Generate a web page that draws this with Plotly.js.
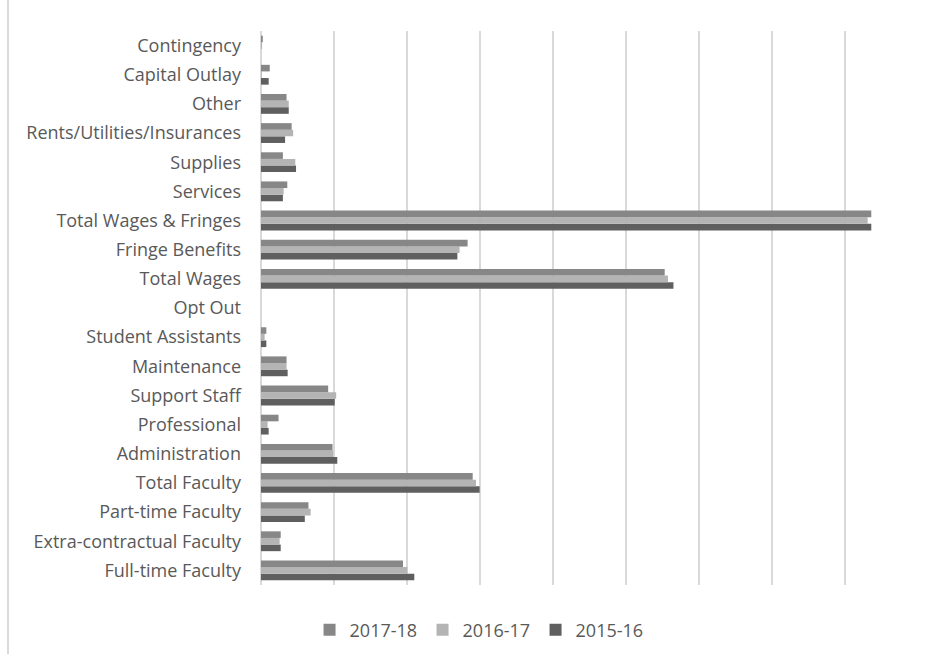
<!DOCTYPE html>
<html>
<head>
<meta charset="utf-8">
<script src="https://cdn.plot.ly/plotly-3.0.1.min.js"></script>
<style>
  html, body { margin: 0; padding: 0; background: #fff; }
  #chart { width: 932px; height: 655px; }
  #frame { position: absolute; left: 7px; top: 0; width: 2px; height: 654px; background: #d9d9d9; }
</style>
</head>
<body>
<div id="chart"></div>
<div id="frame"></div>
<script>
// Categories listed bottom to top
const categories = [
  "Full-time Faculty", "Extra-contractual Faculty", "Part-time Faculty", "Total Faculty",
  "Administration", "Professional", "Support Staff", "Maintenance", "Student Assistants",
  "Opt Out", "Total Wages", "Fringe Benefits", "Total Wages & Fringes", "Services",
  "Supplies", "Rents/Utilities/Insurances", "Other", "Capital Outlay", "Contingency"
];
const seriesNames = ["2017-18", "2016-17", "2015-16"];
const values2017_18 = [1.945, 0.27, 0.65, 2.90, 0.98, 0.24, 0.92, 0.35, 0.073, 0, 5.53, 2.83, 8.36, 0.36, 0.30, 0.42, 0.35, 0.12, 0.025];
const values2016_17 = [2.005, 0.255, 0.68, 2.945, 0.99, 0.09, 1.03, 0.35, 0.05, 0, 5.575, 2.72, 8.31, 0.31, 0.47, 0.44, 0.38, 0.01, 0.015];
const values2015_16 = [2.10, 0.27, 0.60, 2.995, 1.045, 0.105, 1.01, 0.365, 0.073, 0, 5.65, 2.69, 8.36, 0.30, 0.48, 0.33, 0.38, 0.105, 0];

const colors = {"2017-18": "#878787", "2016-17": "#b4b4b4", "2015-16": "#5f5f5f"};
const dataBySeries = {"2017-18": values2017_18, "2016-17": values2016_17, "2015-16": values2015_16};

// plotted bottom-to-top within each group: 2015-16, 2016-17, 2017-18
const order = ["2015-16", "2016-17", "2017-18"];
const traces = order.map(name => ({
  type: "bar",
  orientation: "h",
  name: name,
  y: categories,
  x: dataBySeries[name],
  marker: { color: colors[name], line: { width: 0 } },
  hoverinfo: "x+y+name"
}));

const layout = {
  width: 932,
  height: 655,
  margin: { l: 261, r: 14, t: 31, b: 70 },
  paper_bgcolor: "#ffffff",
  plot_bgcolor: "#ffffff",
  font: { family: "Open Sans, Noto Sans, sans-serif", color: "#595959", size: 18 },
  barmode: "group",
  bargap: 0.32,
  bargroupgap: 0,
  showlegend: true,
  legend: {
    orientation: "h",
    traceorder: "reversed",
    xref: "container", yref: "container",
    x: 0.514, xanchor: "center",
    y: 0.038, yanchor: "middle",
    font: { size: 18, color: "#595959" },
    itemwidth: 30,
    entrywidth: 68
  },
  xaxis: {
    range: [0, 9],
    dtick: 1,
    showticklabels: false,
    showgrid: true,
    gridcolor: "#d9d9d9",
    gridwidth: 1.5,
    zeroline: true,
    zerolinecolor: "#d9d9d9",
    zerolinewidth: 1.5,
    showline: false,
    ticks: "",
    fixedrange: true
  },
  yaxis: {
    type: "category",
    categoryorder: "array",
    categoryarray: categories,
    showgrid: false,
    zeroline: false,
    showline: false,
    ticks: "",
    ticklabelstandoff: 19,
    tickfont: { size: 18, color: "#595959" },
    fixedrange: true
  }
};

Plotly.newPlot("chart", traces, layout, { displayModeBar: false, staticPlot: true });
</script>
</body>
</html>
